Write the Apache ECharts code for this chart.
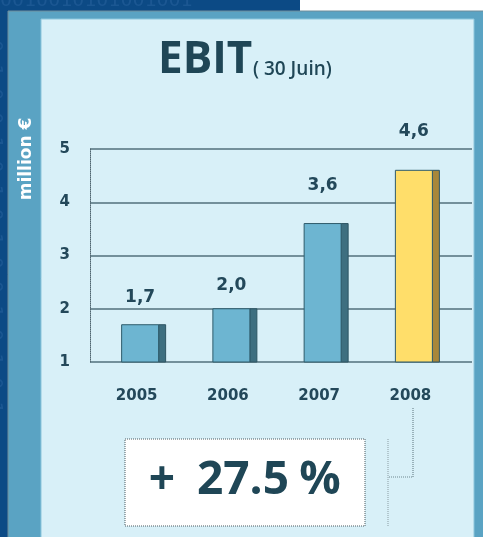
<!DOCTYPE html>
<html>
<head>
<meta charset="utf-8">
<script src="https://cdn.jsdelivr.net/npm/echarts@6/dist/echarts.min.js"></script>
<style>
    html, body { margin: 0; padding: 0; background: #0c4a85; }
    #ebit_chart { width: 483px; height: 537px; }
</style>
</head>
<body>
<div id="ebit_chart"></div>
<script>
    // EBIT (30 Juin), million €
    const years = ['2005', '2006', '2007', '2008'];
    const ebit = [1.7, 2.0, 3.6, 4.6];
    const yMin = 1, yMax = 5, yStep = 1;
    const growth = ['+', '27.5', '%'];
    const highlightIdx = 3; // 2008 en jaune

    // petits décalages des étiquettes au-dessus des barres
    const labelGap = [27, 23, 38, 39];

    const txt = '#23485a';

    let chart = echarts.init(document.getElementById('ebit_chart'));

    chart.setOption({
        animation: false,
        grid: [
            { left: 90, width: 382, top: 149, height: 213 },
            { left: 98, width: 365, top: 149, height: 213 }
        ],
        xAxis: [
            { type: 'value', gridIndex: 0, show: false },
            {
                type: 'category', gridIndex: 1, data: years,
                axisLine: { show: false }, axisTick: { show: false },
                axisLabel: {
                    margin: 27, color: txt, fontFamily: 'DejaVu Sans',
                    fontWeight: 'bold', fontSize: 15, padding: [0, 14, 0, 0]
                }
            }
        ],
        yAxis: [
            {
                type: 'value', gridIndex: 0, min: yMin, max: yMax, interval: yStep,
                axisLine: { show: true, lineStyle: { color: '#4f6670', type: 'dotted', width: 1 } },
                axisTick: { show: false },
                axisLabel: { margin: 20, color: txt, fontFamily: 'DejaVu Sans', fontWeight: 'bold', fontSize: 15 },
                splitLine: { lineStyle: { color: '#52707c', width: 1.5 } }
            },
            { type: 'value', gridIndex: 1, min: yMin, max: yMax, show: false, splitLine: { show: false } }
        ],
        series: [{
            type: 'custom',
            xAxisIndex: 1,
            yAxisIndex: 1,
            data: ebit.map((v, i) => [i, v]),
            renderItem: function (params, api) {
                const i = api.value(0);
                const v = api.value(1);
                const top = api.coord([i, v]);
                const base = api.coord([i, yMin]);
                const cx = top[0];
                const h = base[1] - top[1];
                const hi = i === highlightIdx;
                return {
                    type: 'group',
                    children: [
                        {
                            type: 'rect',
                            shape: { x: cx + 15, y: top[1], width: 7, height: h },
                            style: { fill: hi ? '#a8873a' : '#3e6f80', stroke: '#2e5563', lineWidth: 1 }
                        },
                        {
                            type: 'rect',
                            shape: { x: cx - 22, y: top[1], width: 37, height: h },
                            style: { fill: hi ? '#ffde6a' : '#6db5d1', stroke: '#2e5b6b', lineWidth: 1 }
                        },
                        {
                            type: 'text',
                            style: {
                                text: v.toFixed(1).replace('.', ','),
                                x: cx - 3.5, y: top[1] - labelGap[i],
                                textAlign: 'center', textVerticalAlign: 'middle',
                                font: 'bold 17px "DejaVu Sans"', fill: txt
                            }
                        }
                    ]
                };
            }
        }],
        graphic: [
            // fond
            { type: 'rect', z: -20, shape: { x: 300, y: 0, width: 183, height: 11 }, style: { fill: '#ffffff' } },
            { type: 'text', z: -19, style: { text: '0010010101001001', x: 0, y: -9, font: '20px "DejaVu Sans Mono"', fill: '#2a63a0', opacity: 0.5 } },
            { type: 'text', z: -19, rotation: -Math.PI / 2, x: 4, y: 40, style: { text: '0 1 0 0 1 0 1 0 1 0 0 1 0 1 0 1', x: 0, y: 0, font: '20px "DejaVu Sans Mono"', fill: '#2a63a0', opacity: 0.5 } },
            { type: 'rect', z: -18, shape: { x: 8, y: 11, width: 480, height: 530 }, style: { fill: '#5aa3c3', stroke: '#6f8c99', lineWidth: 1 } },
            { type: 'rect', z: -17, shape: { x: 41, y: 19, width: 433, height: 530 }, style: { fill: '#d8f0f8', stroke: '#8cc6dc', lineWidth: 1 } },
            // titre
            { type: 'text', style: { text: 'EBIT', x: 158, y: 60, textVerticalAlign: 'middle', font: 'bold 44px "Open Sans"', fill: '#1f4656' } },
            { type: 'text', style: { text: '( 30 Juin)', x: 253, y: 70, textVerticalAlign: 'middle', font: '600 19px "Open Sans"', fill: '#1f4656' } },
            // unité
            { type: 'text', rotation: Math.PI / 2, x: 27, y: 159, style: { text: 'million €', x: 0, y: 0, textAlign: 'center', textVerticalAlign: 'middle', font: 'bold 17px "DejaVu Sans"', fill: '#ffffff' } },
            // encadré croissance
            { type: 'rect', shape: { x: 125, y: 439, width: 240, height: 87 }, style: { fill: '#ffffff', stroke: '#4a5a60', lineWidth: 1, lineDash: [1, 1] } },
            { type: 'text', style: { text: growth[0], x: 162, y: 481, textAlign: 'center', textVerticalAlign: 'middle', font: 'bold 46px "Open Sans"', fill: '#1f4656' } },
            { type: 'text', style: { text: growth[1], x: 243, y: 481, textAlign: 'center', textVerticalAlign: 'middle', font: 'bold 46px "Open Sans"', fill: '#1f4656' } },
            { type: 'text', style: { text: growth[2], x: 320, y: 481, textAlign: 'center', textVerticalAlign: 'middle', font: 'bold 46px "Open Sans"', fill: '#1f4656' } },
            { type: 'polyline', shape: { points: [[413, 408], [413, 477], [388, 477]] }, style: { stroke: '#6f8790', lineWidth: 1.2, lineDash: [1, 1], fill: null } },
            { type: 'line', shape: { x1: 388, y1: 439, x2: 388, y2: 526 }, style: { stroke: '#8a9ca3', lineWidth: 1, lineDash: [1, 1] } }
        ]
    });
</script>
</body>
</html>
